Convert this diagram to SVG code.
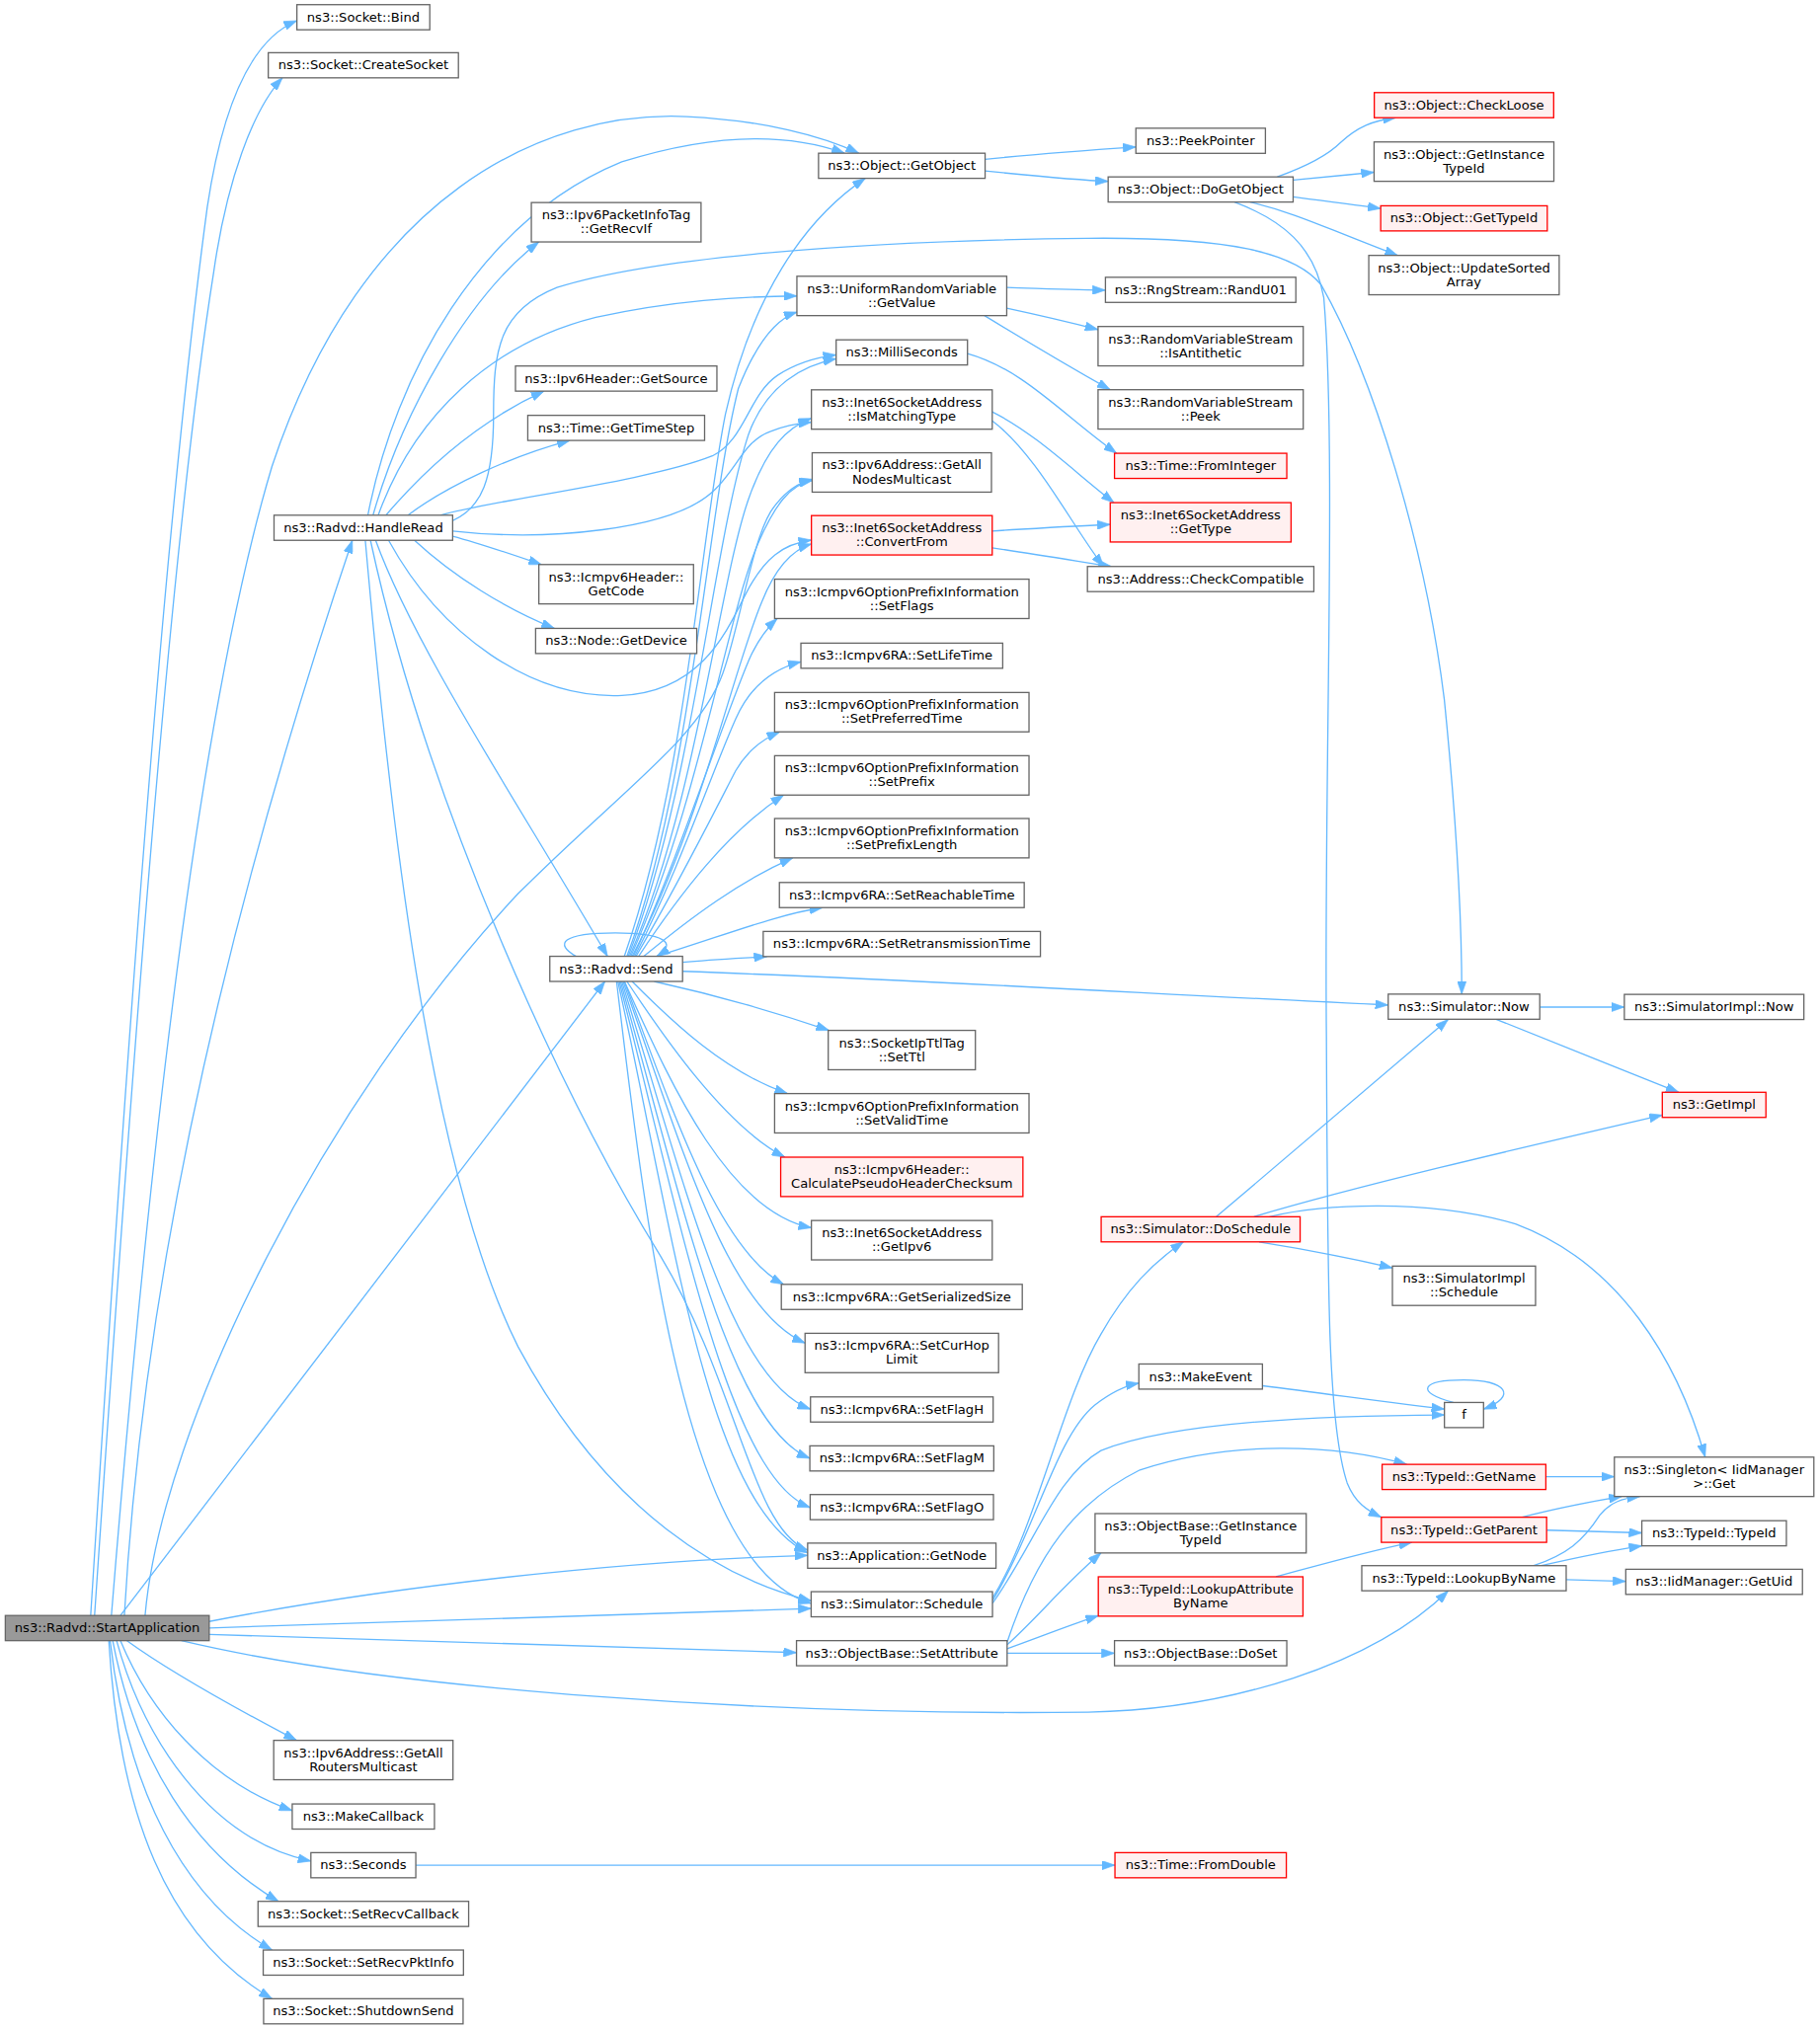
<svg xmlns="http://www.w3.org/2000/svg" width="1843" height="2055" viewBox="0 0 1843 2055">
<defs>
<style>
.n rect{fill:#ffffff;stroke:#666666;stroke-width:1}
.r rect{fill:#fff0f0;stroke:#ff0000;stroke-width:1}
.g rect{fill:#999999;stroke:#666666;stroke-width:1}
text{font-family:"DejaVu Sans","Liberation Sans",sans-serif;font-size:10px;text-anchor:middle;fill:#000000}
#edges path{fill:none;stroke:#63b8ff;stroke-width:1;marker-end:url(#arr)}
</style>
<marker id="arr" markerUnits="userSpaceOnUse" markerWidth="10" markerHeight="7" refX="10" refY="3.5" orient="auto" viewBox="0 0 10 7">
<path d="M0,0 L10,3.5 L0,7 z" fill="#63b8ff" stroke="#63b8ff" stroke-width="0.5"/>
</marker>
</defs>
<rect x="0" y="0" width="1843" height="2055" fill="#ffffff"/>
<g transform="scale(1.3117)">
<g id="edges">
<path d="M70,1247.4 C95,850 125,420 160,160 C172,80 195,30 229.2,16"/>
<path d="M73,1247.4 C100,850 130,430 165,210 C175,140 195,85 218,60.1"/>
<path d="M86,1247.4 C110,950 150,560 210,360 C280,150 420,85 530,90 C590,93 635,105 663,118.3"/>
<path d="M96,1247.4 C110,1000 170,720 272,417.2"/>
<path d="M112,1247.4 C125,1100 250,850 400,690 C480,610 540,570 558,520 C572,480 580,420 595,395 C605,380 615,373 627,370"/>
<path d="M93,1247.4 L467,757.8"/>
<path d="M161.5,1252 C300,1225 480,1205 623.5,1201"/>
<path d="M161.5,1257 C350,1252 500,1245 626.2,1242"/>
<path d="M161.5,1262 C350,1268 500,1273 614.9,1276"/>
<path d="M140,1266.8 C300,1305 600,1325 840,1322 C950,1320 1060,1285 1118,1228.3"/>
<path d="M98,1266.8 C130,1290 180,1318 229,1343.8"/>
<path d="M93,1266.8 C115,1320 160,1375 225.6,1398"/>
<path d="M90,1266.8 C110,1340 160,1420 240,1437"/>
<path d="M87,1266.8 C105,1360 150,1430 215,1468.1"/>
<path d="M85,1266.8 C98,1380 140,1465 210,1505.7"/>
<path d="M84,1266.8 C92,1400 128,1495 210,1543.3"/>
<path d="M284,397.8 C305,290 370,170 480,125 C560,100 615,105 652,118.3"/>
<path d="M288,397.8 C310,320 360,230 416,186.8"/>
<path d="M292,397.8 C320,320 380,265 460,245 C520,232 570,229 615.2,228.5"/>
<path d="M298,397.8 C330,360 370,325 420,302"/>
<path d="M315,397.8 C345,375 395,352 440,340.1"/>
<path d="M340,397.8 C380,386 500,372 550,352 C575,340 578,305 600,290 C615,280 630,276 645.5,274"/>
<path d="M349.4,402 C372,392 381,370 381,320 C381,270 385,240 430,222 C500,200 650,186 840,184 C950,183 1000,195 1020,220 C1060,290 1100,420 1115,540 C1125,640 1128.5,720 1128.5,767.6"/>
<path d="M349.4,410 C420,418 520,410 552,378 C570,360 575,340 595,333 C605,329 615,327 626.4,326"/>
<path d="M300,417.2 C340,490 410,540 480,537 C540,534 560,490 575,460 C590,430 605,420 626.4,417"/>
<path d="M349.4,414 C372,420 395,428 418,435.9"/>
<path d="M320,417.2 C350,445 390,470 428,485.2"/>
<path d="M290,417.2 C320,500 400,620 469,738.4"/>
<path d="M286,417.2 C330,620 430,840 510,970 C570,1070 580,1180 623.5,1197"/>
<path d="M282,417.2 C300,620 330,900 400,1040 C470,1170 560,1220 626.2,1236"/>
<path d="M444.7,738.4 C428,729 433,720.3 475,720.3 C512,720.3 524,728 507,738.4"/>
<path d="M482,738.4 C530,600 540,420 560,320 C580,230 620,170 668,137.7"/>
<path d="M484,738.4 C535,600 545,400 570,300 C585,262 600,246 615.2,241"/>
<path d="M485,738.4 C535,610 550,420 578,335 C592,297 620,282 645.5,277"/>
<path d="M486,738.4 C538,620 555,450 578,385 C592,345 608,330 626.4,323"/>
<path d="M487,738.4 C540,620 560,480 585,420 C598,390 610,374 627,371"/>
<path d="M488,738.4 C540,640 565,520 588,465 C598,440 610,425 626.4,420"/>
<path d="M489,738.4 C525,660 555,565 578,510 C585,494 592,485 600,477.6"/>
<path d="M490,738.4 C525,670 550,595 568,555 C580,528 598,516 618.3,511"/>
<path d="M491,738.4 C525,680 555,620 568,595 C578,578 590,570 602,565.1"/>
<path d="M493,738.4 C525,690 562,642 605,613.9"/>
<path d="M497,738.4 C535,707 572,680 612,662.4"/>
<path d="M507,738.4 C560,722 600,706 635,700.8"/>
<path d="M526.9,743 C550,741 570,740 592,738.6"/>
<path d="M526.9,750 C700,756 900,768 1071.7,776"/>
<path d="M505,757.8 C560,770 600,782 640,795.6"/>
<path d="M488,757.8 C520,790 560,828 608,844.4"/>
<path d="M484,757.8 C512,800 560,870 606,893.5"/>
<path d="M482,757.8 C515,830 560,935 626.4,948"/>
<path d="M482,757.8 C520,860 555,965 605,991.7"/>
<path d="M481,757.8 C525,880 560,1010 621.5,1037"/>
<path d="M480,757.8 C525,900 562,1065 625.7,1088"/>
<path d="M479,757.8 C525,920 562,1100 625.2,1126"/>
<path d="M478,757.8 C525,940 562,1140 625.45,1164"/>
<path d="M477,757.8 C520,950 545,1160 623.5,1199"/>
<path d="M476,757.8 C500,960 530,1210 626.2,1238"/>
<path d="M760.5,123 C800,119 840,116 876.9,113.5"/>
<path d="M760.5,132 C800,136 830,139 855.5,140"/>
<path d="M986,136.6 C1010,128 1025,120 1035,110 C1048,98 1060,93 1077.5,90.9"/>
<path d="M998.3,139 C1020,137 1040,135 1060.8,133"/>
<path d="M998.3,152 C1020,155 1045,158 1065.9,161"/>
<path d="M965,156 C990,162 1010,170 1030,178 C1050,186 1065,192 1079,197.2"/>
<path d="M953,156 C990,170 1015,190 1022,230 C1032,350 1022,600 1024,800 C1025,1000 1025,1100 1040,1145 C1046,1160 1055,1166 1066.4,1171.5"/>
<path d="M777.2,222 C810,223 835,224 853.4,224"/>
<path d="M777.2,238 C805,244 830,250 847.7,254.5"/>
<path d="M760,243.7 C790,262 820,280 857,300.9"/>
<path d="M746.9,273 C790,285 820,320 862,350"/>
<path d="M766,318 C800,335 830,365 860,388.1"/>
<path d="M766,325 C800,350 830,410 852,437.4"/>
<path d="M766,410 C800,408 830,406 857.1,405"/>
<path d="M766,423 C800,428 830,433 858,437.4"/>
<path d="M766.2,1234 C800,1180 820,1080 850,1030 C870,995 890,975 913.6,958.9"/>
<path d="M766.2,1236 C800,1180 815,1110 845,1085 C858,1075 868,1070 879.2,1068"/>
<path d="M766.2,1238 C800,1190 815,1140 850,1120 C900,1100 1000,1093 1115.1,1092.5"/>
<path d="M974.6,1070 C1030,1077 1080,1084 1115.1,1088"/>
<path d="M1122,1082.9 C1092,1075 1097,1065.5 1130,1065.5 C1163,1065.5 1172,1078 1145.3,1088"/>
<path d="M777.5,1270 C800,1250 820,1225 850,1199.1"/>
<path d="M777.5,1273 C800,1265 825,1255 848,1247.5"/>
<path d="M777.5,1276.5 L860.4,1276.5"/>
<path d="M777.5,1268 C800,1200 830,1160 880,1135 C950,1112 1030,1115 1086,1130.7"/>
<path d="M985,1217.5 C1020,1208 1055,1198 1090,1190.9"/>
<path d="M939,939.5 L1118,787.2"/>
<path d="M968,939.5 C1050,915 1180,885 1283.3,861"/>
<path d="M980,939.5 C1020,930 1100,925 1170,945 C1250,975 1295,1050 1316.4,1125.1"/>
<path d="M972,959 C1010,965 1045,972 1074.9,979"/>
<path d="M1188.7,777.6 L1254,777.6"/>
<path d="M1155,787 C1200,805 1250,825 1296,843.4"/>
<path d="M1193.4,1140.2 L1246.3,1140.2"/>
<path d="M1175,1171.5 C1200,1165 1225,1160 1252,1155.5"/>
<path d="M1194,1181.5 L1267.5,1183.6"/>
<path d="M1184,1208.9 C1210,1200 1222,1190 1235,1170 C1243,1160 1252,1157 1266,1155.5"/>
<path d="M1190,1208.9 C1220,1202 1245,1197 1267.5,1193.6"/>
<path d="M1209.1,1219.7 L1255.1,1221"/>
<path d="M321,1440.2 L860.7,1440.2"/>
</g>
<g id="n_startapplication" class="g"><rect x="4.1" y="1247.4" width="157.4" height="19.4"/><text x="82.8" y="1260.4">ns3::Radvd::StartApplication</text></g>
<g id="n_bind" class="n"><rect x="229.2" y="3.6" width="102.6" height="19.4"/><text x="280.5" y="16.6">ns3::Socket::Bind</text></g>
<g id="n_createsocket" class="n"><rect x="207.1" y="40.7" width="146.8" height="19.4"/><text x="280.5" y="53.7">ns3::Socket::CreateSocket</text></g>
<g id="n_handleread" class="n"><rect x="211.55" y="397.8" width="137.9" height="19.4"/><text x="280.5" y="410.8">ns3::Radvd::HandleRead</text></g>
<g id="n_getallroutersmulticast" class="n"><rect x="211.3" y="1343.8" width="138.4" height="30.4"/><text x="280.5" y="1356.7">ns3::Ipv6Address::GetAll</text><text x="280.5" y="1367.4">RoutersMulticast</text></g>
<g id="n_makecallback" class="n"><rect x="225.6" y="1392.9" width="109.8" height="19.4"/><text x="280.5" y="1405.9">ns3::MakeCallback</text></g>
<g id="n_seconds" class="n"><rect x="240" y="1430.5" width="81" height="19.4"/><text x="280.5" y="1443.5">ns3::Seconds</text></g>
<g id="n_setrecvcallback" class="n"><rect x="199.2" y="1468.1" width="162.6" height="19.4"/><text x="280.5" y="1481.1">ns3::Socket::SetRecvCallback</text></g>
<g id="n_setrecvpktinfo" class="n"><rect x="203.2" y="1505.7" width="154.6" height="19.4"/><text x="280.5" y="1518.7">ns3::Socket::SetRecvPktInfo</text></g>
<g id="n_shutdownsend" class="n"><rect x="203.5" y="1543.3" width="154" height="19.4"/><text x="280.5" y="1556.3">ns3::Socket::ShutdownSend</text></g>
<g id="n_getrecvif" class="n"><rect x="410.2" y="156.4" width="131" height="30.4"/><text x="475.7" y="169.3">ns3::Ipv6PacketInfoTag</text><text x="475.7" y="180">::GetRecvIf</text></g>
<g id="n_getsource" class="n"><rect x="397.95" y="282.6" width="155.5" height="19.4"/><text x="475.7" y="295.6">ns3::Ipv6Header::GetSource</text></g>
<g id="n_gettimestep" class="n"><rect x="407.45" y="320.7" width="136.5" height="19.4"/><text x="475.7" y="333.7">ns3::Time::GetTimeStep</text></g>
<g id="n_getcode" class="n"><rect x="416" y="435.9" width="119.4" height="30.4"/><text x="475.7" y="448.8">ns3::Icmpv6Header::</text><text x="475.7" y="459.5">GetCode</text></g>
<g id="n_getdevice" class="n"><rect x="413.5" y="485.2" width="124.4" height="19.4"/><text x="475.7" y="498.2">ns3::Node::GetDevice</text></g>
<g id="n_send" class="n"><rect x="424.45" y="738.4" width="102.5" height="19.4"/><text x="475.7" y="751.4">ns3::Radvd::Send</text></g>
<g id="n_getobject" class="n"><rect x="631.9" y="118.3" width="128.6" height="19.4"/><text x="696.2" y="131.3">ns3::Object::GetObject</text></g>
<g id="n_urv_getvalue" class="n"><rect x="615.2" y="213.3" width="162" height="30.4"/><text x="696.2" y="226.2">ns3::UniformRandomVariable</text><text x="696.2" y="236.9">::GetValue</text></g>
<g id="n_milliseconds" class="n"><rect x="645.5" y="262.4" width="101.4" height="19.4"/><text x="696.2" y="275.4">ns3::MilliSeconds</text></g>
<g id="n_ismatchingtype" class="n"><rect x="626.4" y="301" width="139.6" height="30.4"/><text x="696.2" y="313.9">ns3::Inet6SocketAddress</text><text x="696.2" y="324.6">::IsMatchingType</text></g>
<g id="n_getallnodesmulticast" class="n"><rect x="627" y="349.6" width="138.4" height="30.4"/><text x="696.2" y="362.5">ns3::Ipv6Address::GetAll</text><text x="696.2" y="373.2">NodesMulticast</text></g>
<g id="n_convertfrom" class="r"><rect x="626.4" y="398.1" width="139.6" height="30.4"/><text x="696.2" y="411">ns3::Inet6SocketAddress</text><text x="696.2" y="421.7">::ConvertFrom</text></g>
<g id="n_setflags" class="n"><rect x="598" y="447.2" width="196.4" height="30.4"/><text x="696.2" y="460.1">ns3::Icmpv6OptionPrefixInformation</text><text x="696.2" y="470.8">::SetFlags</text></g>
<g id="n_setlifetime" class="n"><rect x="618.3" y="496.6" width="155.8" height="19.4"/><text x="696.2" y="509.6">ns3::Icmpv6RA::SetLifeTime</text></g>
<g id="n_setpreferredtime" class="n"><rect x="598" y="534.7" width="196.4" height="30.4"/><text x="696.2" y="547.6">ns3::Icmpv6OptionPrefixInformation</text><text x="696.2" y="558.3">::SetPreferredTime</text></g>
<g id="n_setprefix" class="n"><rect x="598" y="583.5" width="196.4" height="30.4"/><text x="696.2" y="596.4">ns3::Icmpv6OptionPrefixInformation</text><text x="696.2" y="607.1">::SetPrefix</text></g>
<g id="n_setprefixlength" class="n"><rect x="598" y="632" width="196.4" height="30.4"/><text x="696.2" y="644.9">ns3::Icmpv6OptionPrefixInformation</text><text x="696.2" y="655.6">::SetPrefixLength</text></g>
<g id="n_setreachabletime" class="n"><rect x="601.7" y="681.4" width="189" height="19.4"/><text x="696.2" y="694.4">ns3::Icmpv6RA::SetReachableTime</text></g>
<g id="n_setretransmissiontime" class="n"><rect x="589.2" y="719.2" width="214" height="19.4"/><text x="696.2" y="732.2">ns3::Icmpv6RA::SetRetransmissionTime</text></g>
<g id="n_setttl" class="n"><rect x="639.4" y="795.6" width="113.6" height="30.4"/><text x="696.2" y="808.5">ns3::SocketIpTtlTag</text><text x="696.2" y="819.2">::SetTtl</text></g>
<g id="n_setvalidtime" class="n"><rect x="598" y="844.4" width="196.4" height="30.4"/><text x="696.2" y="857.3">ns3::Icmpv6OptionPrefixInformation</text><text x="696.2" y="868">::SetValidTime</text></g>
<g id="n_calcpseudo" class="r"><rect x="602.7" y="893.5" width="187" height="30.4"/><text x="696.2" y="906.4">ns3::Icmpv6Header::</text><text x="696.2" y="917.1">CalculatePseudoHeaderChecksum</text></g>
<g id="n_getipv6" class="n"><rect x="626.4" y="942.4" width="139.6" height="30.4"/><text x="696.2" y="955.3">ns3::Inet6SocketAddress</text><text x="696.2" y="966">::GetIpv6</text></g>
<g id="n_getserializedsize" class="n"><rect x="603.2" y="991.7" width="186" height="19.4"/><text x="696.2" y="1004.7">ns3::Icmpv6RA::GetSerializedSize</text></g>
<g id="n_setcurhoplimit" class="n"><rect x="621.5" y="1029.5" width="149.4" height="30.4"/><text x="696.2" y="1042.4">ns3::Icmpv6RA::SetCurHop</text><text x="696.2" y="1053.1">Limit</text></g>
<g id="n_setflagh" class="n"><rect x="625.7" y="1078.6" width="141" height="19.4"/><text x="696.2" y="1091.6">ns3::Icmpv6RA::SetFlagH</text></g>
<g id="n_setflagm" class="n"><rect x="625.2" y="1116.4" width="142" height="19.4"/><text x="696.2" y="1129.4">ns3::Icmpv6RA::SetFlagM</text></g>
<g id="n_setflago" class="n"><rect x="625.45" y="1154" width="141.5" height="19.4"/><text x="696.2" y="1167">ns3::Icmpv6RA::SetFlagO</text></g>
<g id="n_getnode" class="n"><rect x="623.5" y="1191.5" width="145.4" height="19.4"/><text x="696.2" y="1204.5">ns3::Application::GetNode</text></g>
<g id="n_schedule" class="n"><rect x="626.2" y="1229" width="140" height="19.4"/><text x="696.2" y="1242">ns3::Simulator::Schedule</text></g>
<g id="n_setattribute" class="n"><rect x="614.9" y="1266.8" width="162.6" height="19.4"/><text x="696.2" y="1279.8">ns3::ObjectBase::SetAttribute</text></g>
<g id="n_peekpointer" class="n"><rect x="876.9" y="99" width="100" height="19.4"/><text x="926.9" y="112">ns3::PeekPointer</text></g>
<g id="n_dogetobject" class="n"><rect x="855.5" y="136.6" width="142.8" height="19.4"/><text x="926.9" y="149.6">ns3::Object::DoGetObject</text></g>
<g id="n_randu01" class="n"><rect x="853.4" y="214.1" width="147" height="19.4"/><text x="926.9" y="227.1">ns3::RngStream::RandU01</text></g>
<g id="n_isantithetic" class="n"><rect x="847.7" y="252.1" width="158.4" height="30.4"/><text x="926.9" y="265">ns3::RandomVariableStream</text><text x="926.9" y="275.7">::IsAntithetic</text></g>
<g id="n_peek" class="n"><rect x="847.7" y="300.9" width="158.4" height="30.4"/><text x="926.9" y="313.8">ns3::RandomVariableStream</text><text x="926.9" y="324.5">::Peek</text></g>
<g id="n_frominteger" class="r"><rect x="860.4" y="350" width="133" height="19.4"/><text x="926.9" y="363">ns3::Time::FromInteger</text></g>
<g id="n_gettype" class="r"><rect x="857.1" y="388.1" width="139.6" height="30.4"/><text x="926.9" y="401">ns3::Inet6SocketAddress</text><text x="926.9" y="411.7">::GetType</text></g>
<g id="n_checkcompatible" class="n"><rect x="839.5" y="437.4" width="174.8" height="19.4"/><text x="926.9" y="450.4">ns3::Address::CheckCompatible</text></g>
<g id="n_doschedule" class="r"><rect x="850.1" y="939.5" width="153.6" height="19.4"/><text x="926.9" y="952.5">ns3::Simulator::DoSchedule</text></g>
<g id="n_makeevent" class="n"><rect x="879.2" y="1053.2" width="95.4" height="19.4"/><text x="926.9" y="1066.2">ns3::MakeEvent</text></g>
<g id="n_objectbase_getinstancetypeid" class="n"><rect x="845.4" y="1168.7" width="163" height="30.4"/><text x="926.9" y="1181.6">ns3::ObjectBase::GetInstance</text><text x="926.9" y="1192.3">TypeId</text></g>
<g id="n_lookupattributebyname" class="r"><rect x="847.9" y="1217.5" width="158" height="30.4"/><text x="926.9" y="1230.4">ns3::TypeId::LookupAttribute</text><text x="926.9" y="1241.1">ByName</text></g>
<g id="n_doset" class="n"><rect x="860.4" y="1266.8" width="133" height="19.4"/><text x="926.9" y="1279.8">ns3::ObjectBase::DoSet</text></g>
<g id="n_fromdouble" class="r"><rect x="860.75" y="1430.5" width="132.3" height="19.4"/><text x="926.9" y="1443.5">ns3::Time::FromDouble</text></g>
<g id="n_checkloose" class="r"><rect x="1060.95" y="71.5" width="138.5" height="19.4"/><text x="1130.2" y="84.5">ns3::Object::CheckLoose</text></g>
<g id="n_object_getinstancetypeid" class="n"><rect x="1060.8" y="109.6" width="138.8" height="30.4"/><text x="1130.2" y="122.5">ns3::Object::GetInstance</text><text x="1130.2" y="133.2">TypeId</text></g>
<g id="n_gettypeid" class="r"><rect x="1065.9" y="158.9" width="128.6" height="19.4"/><text x="1130.2" y="171.9">ns3::Object::GetTypeId</text></g>
<g id="n_updatesortedarray" class="n"><rect x="1056.7" y="197.2" width="147" height="30.4"/><text x="1130.2" y="210.1">ns3::Object::UpdateSorted</text><text x="1130.2" y="220.8">Array</text></g>
<g id="n_simulator_now" class="n"><rect x="1071.7" y="767.6" width="117" height="19.4"/><text x="1130.2" y="780.6">ns3::Simulator::Now</text></g>
<g id="n_simulatorimpl_schedule" class="n"><rect x="1074.95" y="977.6" width="110.5" height="30.4"/><text x="1130.2" y="990.5">ns3::SimulatorImpl</text><text x="1130.2" y="1001.2">::Schedule</text></g>
<g id="n_f" class="n"><rect x="1115.1" y="1082.9" width="30.2" height="19.4"/><text x="1130.2" y="1095.9">f</text></g>
<g id="n_getname" class="r"><rect x="1067" y="1130.7" width="126.4" height="19.4"/><text x="1130.2" y="1143.7">ns3::TypeId::GetName</text></g>
<g id="n_getparent" class="r"><rect x="1066.4" y="1171.5" width="127.6" height="19.4"/><text x="1130.2" y="1184.5">ns3::TypeId::GetParent</text></g>
<g id="n_lookupbyname" class="n"><rect x="1051.3" y="1208.9" width="157.8" height="19.4"/><text x="1130.2" y="1221.9">ns3::TypeId::LookupByName</text></g>
<g id="n_simulatorimpl_now" class="n"><rect x="1254" y="767.8" width="138.6" height="19.4"/><text x="1323.3" y="780.8">ns3::SimulatorImpl::Now</text></g>
<g id="n_getimpl" class="r"><rect x="1283.3" y="843.4" width="80" height="19.4"/><text x="1323.3" y="856.4">ns3::GetImpl</text></g>
<g id="n_singleton_get" class="n"><rect x="1246.3" y="1125.1" width="154" height="30.4"/><text x="1323.3" y="1138">ns3::Singleton&lt; IidManager</text><text x="1323.3" y="1148.7">&gt;::Get</text></g>
<g id="n_typeid" class="n"><rect x="1267.5" y="1174.2" width="111.6" height="19.4"/><text x="1323.3" y="1187.2">ns3::TypeId::TypeId</text></g>
<g id="n_getuid" class="n"><rect x="1255.1" y="1211.7" width="136.4" height="19.4"/><text x="1323.3" y="1224.7">ns3::IidManager::GetUid</text></g>
</g>
</svg>
